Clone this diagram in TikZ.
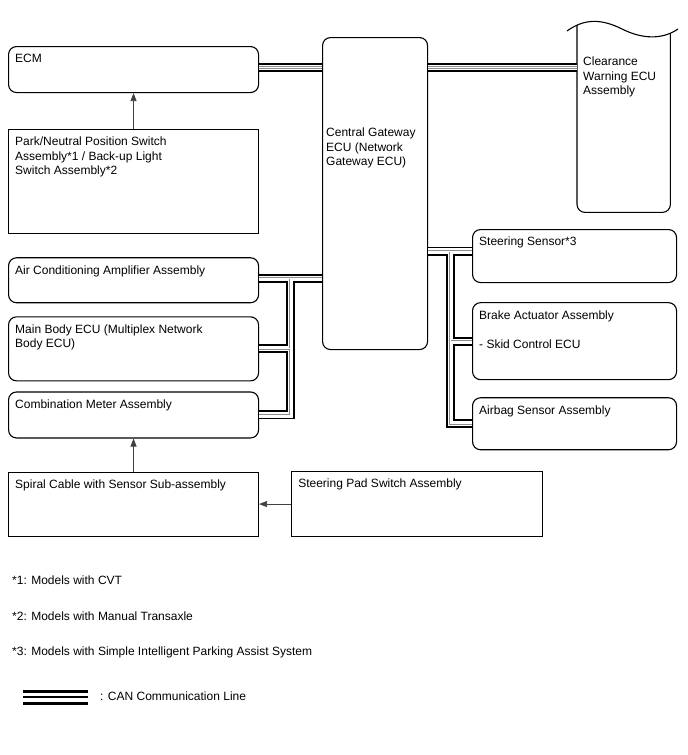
\documentclass[tikz,border=0pt]{standalone}
\usepackage{fontspec}
\setmainfont{Liberation Sans}
\usetikzlibrary{arrows.meta, positioning, calc}

\begin{document}
\begin{tikzpicture}[
    x=1pt, y=-1pt,
    font=\fontsize{12}{14.5}\selectfont,
    unit/.style = {rectangle, draw, line width=1.1pt, inner sep=0pt,
                   minimum width=250pt, anchor=north west},
    ecu/.style  = {unit, rounded corners=8pt},
    lbl/.style  = {anchor=north west, inner sep=0pt, align=left,
                   xshift=7pt, yshift=-8pt},
    tl/.style   = {label={[lbl]north west:{#1}}},
    arr/.style  = {-{Triangle[length=8pt, width=6pt]}, line width=0.8pt, black!75}
]
  \useasboundingbox (0,0) rectangle (688,755);

  % left column
  \node[ecu, minimum height=46pt, tl=ECM] (ecm) at (8,46) {};
  \node[unit, minimum height=104pt, below=36pt of ecm,
        tl={Park/Neutral Position Switch\\Assembly*1 / Back-up Light\\Switch Assembly*2}] (park) {};
  \node[ecu, minimum height=45pt, below=23pt of park,
        tl=Air Conditioning Amplifier Assembly] (ac) {};
  \node[ecu, minimum height=64pt, below=13pt of ac,
        tl={Main Body ECU (Multiplex Network\\Body ECU)}] (mb) {};
  \node[ecu, minimum height=46pt, below=10pt of mb,
        tl=Combination Meter Assembly] (cm) {};
  \node[unit, minimum height=64pt, below=33pt of cm,
        tl=Spiral Cable with Sensor Sub-assembly] (spiral) {};
  \node[unit, minimum width=251pt, minimum height=65pt, right=32pt of spiral,
        tl=Steering Pad Switch Assembly] (pad) {};

  % gateway
  \node[ecu, minimum width=105pt, minimum height=312pt,
        label={[lbl, xshift=-3pt, yshift=-83pt]north west:{Central Gateway\\ECU (Network\\Gateway ECU)}}] (gw) at (322,37) {};

  % right column
  \node[minimum width=93pt, minimum height=182pt, inner sep=0pt, anchor=north west,
        label={[lbl, xshift=-1pt, yshift=-19pt]north west:{Clearance\\Warning ECU\\Assembly}}] (cw) at (577,30) {};
  \node[ecu, minimum width=204pt, minimum height=53pt,
        tl=Steering Sensor*3] (steer) at (472,229) {};
  \node[ecu, minimum width=204pt, minimum height=77pt, below=19pt of steer,
        tl={Brake Actuator Assembly\\[14.5pt]- Skid Control ECU}] (brake) {};
  \node[ecu, minimum width=204pt, minimum height=52pt, below=17pt of brake,
        tl=Airbag Sensor Assembly] (airbag) {};

  % clearance unit outline (torn top)
  \draw[line width=1.1pt] (567,31) .. controls (585,18) and (602,19) .. (622,29)
        .. controls (642,39) and (662,40) .. (678,29);
  \draw[line width=1.1pt, rounded corners=8pt] ([yshift=5pt]cw.north west) -- (cw.south west)
        -- (cw.south east) -- ([yshift=-3pt]cw.north east);

  % bus taps
  \coordinate (ln) at ([yshift=2pt]ecm.east);
  \coordinate (la) at ([yshift=2pt]ac.east);
  \coordinate (lt) at ($(la)+(31,0)$);
  \coordinate (ls) at ([yshift=5pt]steer.west);
  \coordinate (rt) at ($(gw.east |- ls)+(22,0)$);

  % CAN lines, drawn layer by layer
  \foreach \lw/\lc in {9pt/black, 5.2pt/white, 2.4pt/black!45, 0.8pt/white} {
    \draw[line width=\lw, color=\lc] (ln) -- (gw.west |- ln);
    \draw[line width=\lw, color=\lc] (gw.east |- ln) -- (cw.west |- ln);
    \draw[line width=\lw, color=\lc] (gw.west |- la) -- (la);
    \draw[line width=\lw, color=\lc] (lt) |- (mb.east);
    \draw[line width=\lw, color=\lc] (lt |- mb.east) |- (cm.east);
    \draw[line width=\lw, color=\lc] (gw.east |- ls) -- (ls);
    \draw[line width=\lw, color=\lc] (rt) |- (brake.west);
    \draw[line width=\lw, color=\lc] (rt |- brake.west) |- (airbag.west);
  }

  \draw[arr] (park) -- (ecm);
  \draw[arr] (spiral) -- (cm);
  \draw[arr] (pad) -- (spiral);

  % notes
  \node[anchor=west, inner sep=0pt] (fn1) at (12,580) {*1: Models with CVT};
  \node[anchor=west, inner sep=0pt] (fn2) at (12,616) {*2: Models with Manual Transaxle};
  \node[anchor=west, inner sep=0pt] (fn3) at (12,652) {*3: Models with Simple Intelligent Parking Assist System};

  % legend
  \draw[line width=3pt] (23,691.7) -- (88,691.7);
  \draw[line width=2.2pt] (23,697.2) -- (88,697.2);
  \draw[line width=3pt] (23,703) -- (88,703);
  \node[anchor=west, inner sep=0pt] (leg) at (100,696) {: CAN Communication Line};
\end{tikzpicture}
\end{document}
